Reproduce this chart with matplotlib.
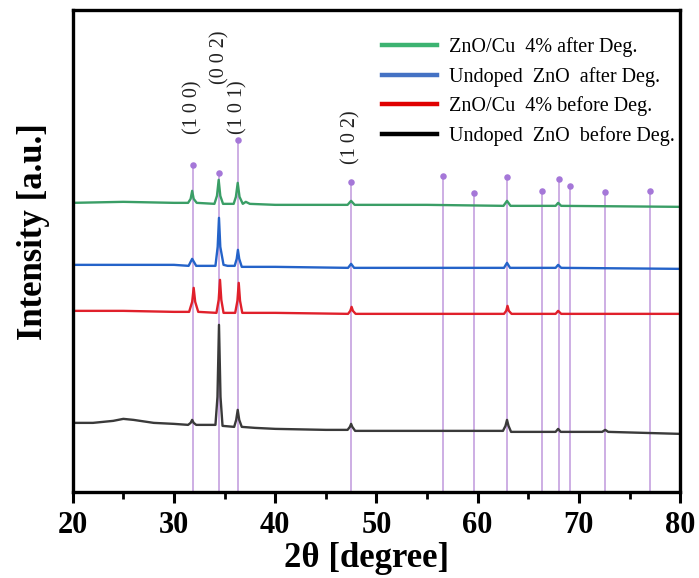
import matplotlib
matplotlib.use("Agg")
import matplotlib.pyplot as plt
from matplotlib.ticker import MultipleLocator
from matplotlib.lines import Line2D

# ---- XRD traces (2-theta in degrees, stacked intensity in a.u.) ----
undoped_before_x = [20.0, 22.0, 24.0, 25.0, 26.0, 28.0, 30.0, 31.4, 31.65, 31.8, 31.95, 32.2,
                    34.1, 34.3, 34.45, 34.6, 34.8, 35.95, 36.15, 36.3, 36.45, 36.7, 38.0, 40.0,
                    45.0, 47.15, 47.38, 47.5, 47.62, 47.9, 55.0, 62.5, 62.75, 62.9, 63.05, 63.3,
                    67.7, 67.95, 68.2, 72.3, 72.6, 72.9, 80.0]
undoped_before_y = [69, 69, 71, 73, 72, 69, 68, 67, 69, 72, 69, 67,
                    67, 95, 167, 95, 66, 65, 72, 82, 72, 65, 64, 63,
                    62, 62, 65, 68, 65, 61, 61, 61, 66, 72, 66, 60,
                    60, 63, 60, 60, 62, 60, 58]

cu4_before_x = [20.0, 25.0, 30.0, 31.5, 31.8, 31.95, 32.1, 32.4, 34.2, 34.42, 34.55, 34.68, 34.9,
                36.05, 36.27, 36.4, 36.53, 36.75, 40.0, 47.2, 47.42, 47.55, 47.68, 47.95,
                55.0, 62.6, 62.82, 62.95, 63.08, 63.35, 67.7, 67.95, 68.25, 80.0]
cu4_before_y = [181, 181, 180, 180, 190, 204, 190, 180, 179, 192, 212, 192, 179,
                179, 191, 209, 191, 179, 179, 178, 181, 185, 181, 178,
                178, 178, 181, 186, 181, 178, 178, 181, 178, 178]

undoped_after_x = [20.0, 25.0, 30.0, 31.45, 31.8, 32.2, 34.1, 34.32, 34.45, 34.58, 34.9, 35.3,
                   36.0, 36.2, 36.32, 36.45, 36.7, 40.0, 47.2, 47.5, 47.8, 55.0, 62.6, 62.9,
                   63.2, 67.7, 67.95, 68.25, 80.0]
undoped_after_y = [227, 227, 227, 226, 233, 226, 226, 245, 274, 245, 227, 226,
                   226, 233, 242, 233, 225, 225, 224, 228, 224, 224, 224, 229,
                   224, 224, 227, 224, 223]

cu4_after_x = [20.0, 25.0, 30.0, 31.4, 31.65, 31.8, 31.95, 32.25, 34.0, 34.25, 34.42, 34.58,
               34.85, 35.9, 36.12, 36.3, 36.48, 36.8, 37.1, 37.5, 40.0, 47.15, 47.5, 47.85,
               55.0, 62.55, 62.9, 63.25, 67.7, 67.95, 68.25, 80.0]
cu4_after_y = [289, 290, 289, 289, 293, 301, 293, 289, 288, 296, 312, 296,
               288, 288, 295, 309, 295, 288, 290, 288, 287, 287, 291, 287,
               287, 286, 291, 286, 286, 289, 286, 285]

# ---- reference reflections (stick positions and marker heights) ----
ref_pos = [31.85, 34.5, 36.3, 47.5, 56.6, 59.6, 62.9, 66.4, 68.0, 69.1, 72.6, 77.0]
ref_height = [327, 319, 352, 310, 316, 299, 315, 301, 313, 306, 300, 301]

# Miller-index annotations: (label, 2-theta, bottom of text)
hkl_labels = ["(1 0 0)", "(0 0 2)", "(1 0 1)", "(1 0 2)"]
hkl_pos = [31.85, 34.5, 36.3, 47.5]
hkl_bottom = [358, 408, 358, 328]

series_labels = ["ZnO/Cu  4% after Deg.", "Undoped  ZnO  after Deg.",
                 "ZnO/Cu  4% before Deg.", "Undoped  ZnO  before Deg."]
series_colors = ["#3a9e66", "#2463c9", "#e0202b", "#3a3a3a"]
legend_colors = ["#3cb371", "#4472c4", "#e00000", "#000000"]

serif = ["Liberation Serif", "DejaVu Serif"]

fig = plt.figure(figsize=(6.99, 5.78), dpi=100)
ax = fig.add_axes([0.104, 0.149, 0.869, 0.834])

stick_color = "#c9a8e2"
dot_color = "#a577d8"
for p, h in zip(ref_pos, ref_height):
    ax.plot([p, p], [0, h], color=stick_color, lw=1.3, zorder=1)
ax.scatter(ref_pos, ref_height, s=22, color=dot_color, zorder=3, linewidths=0)

traces = [(undoped_before_x, undoped_before_y, series_colors[3]),
          (cu4_before_x, cu4_before_y, series_colors[2]),
          (undoped_after_x, undoped_after_y, series_colors[1]),
          (cu4_after_x, cu4_after_y, series_colors[0])]
for x, y, c in traces:
    ax.plot(x, y, color=c, lw=1.7, zorder=2, solid_joinstyle="round")

for lab, p, b in zip(hkl_labels, hkl_pos, hkl_bottom):
    ax.text(p, b, lab, rotation=90, ha="center", va="bottom",
            fontsize=14.5, family=serif, color="#222222")

handles = [Line2D([], [], color=c, lw=3.2) for c in legend_colors]
leg = ax.legend(handles, series_labels, loc="upper left",
                bbox_to_anchor=(0.509, 0.943), frameon=False,
                prop={"family": serif, "size": 14.5}, handlelength=2.75,
                handletextpad=0.6, labelspacing=0.48, borderpad=0,
                borderaxespad=0)

ax.set_xlim(20, 80)
ax.set_ylim(0, 482)
ax.xaxis.set_major_locator(MultipleLocator(10))
ax.xaxis.set_minor_locator(MultipleLocator(5))
ax.set_yticks([])
ax.tick_params(axis="x", which="major", direction="out", length=8, width=2.2, pad=6)
ax.tick_params(axis="x", which="minor", direction="out", length=5, width=2.0)
for lab in ax.get_xticklabels():
    lab.set_family(serif)
    lab.set_fontweight("bold")
    lab.set_fontsize(22)
for s in ax.spines.values():
    s.set_linewidth(2.4)

ax.set_xlabel("2θ [degree]", family=serif, fontweight="bold", fontsize=25)
ax.xaxis.set_label_coords(0.483, -0.105, transform=ax.transAxes)
ax.xaxis.label.set_va("top")
ax.set_ylabel("Intensity [a.u.]", family=serif, fontweight="bold", fontsize=25)
ax.yaxis.set_label_coords(-0.065, 0.54, transform=ax.transAxes)
ax.yaxis.label.set_va("center")

fig.savefig("out.png", dpi=100)
